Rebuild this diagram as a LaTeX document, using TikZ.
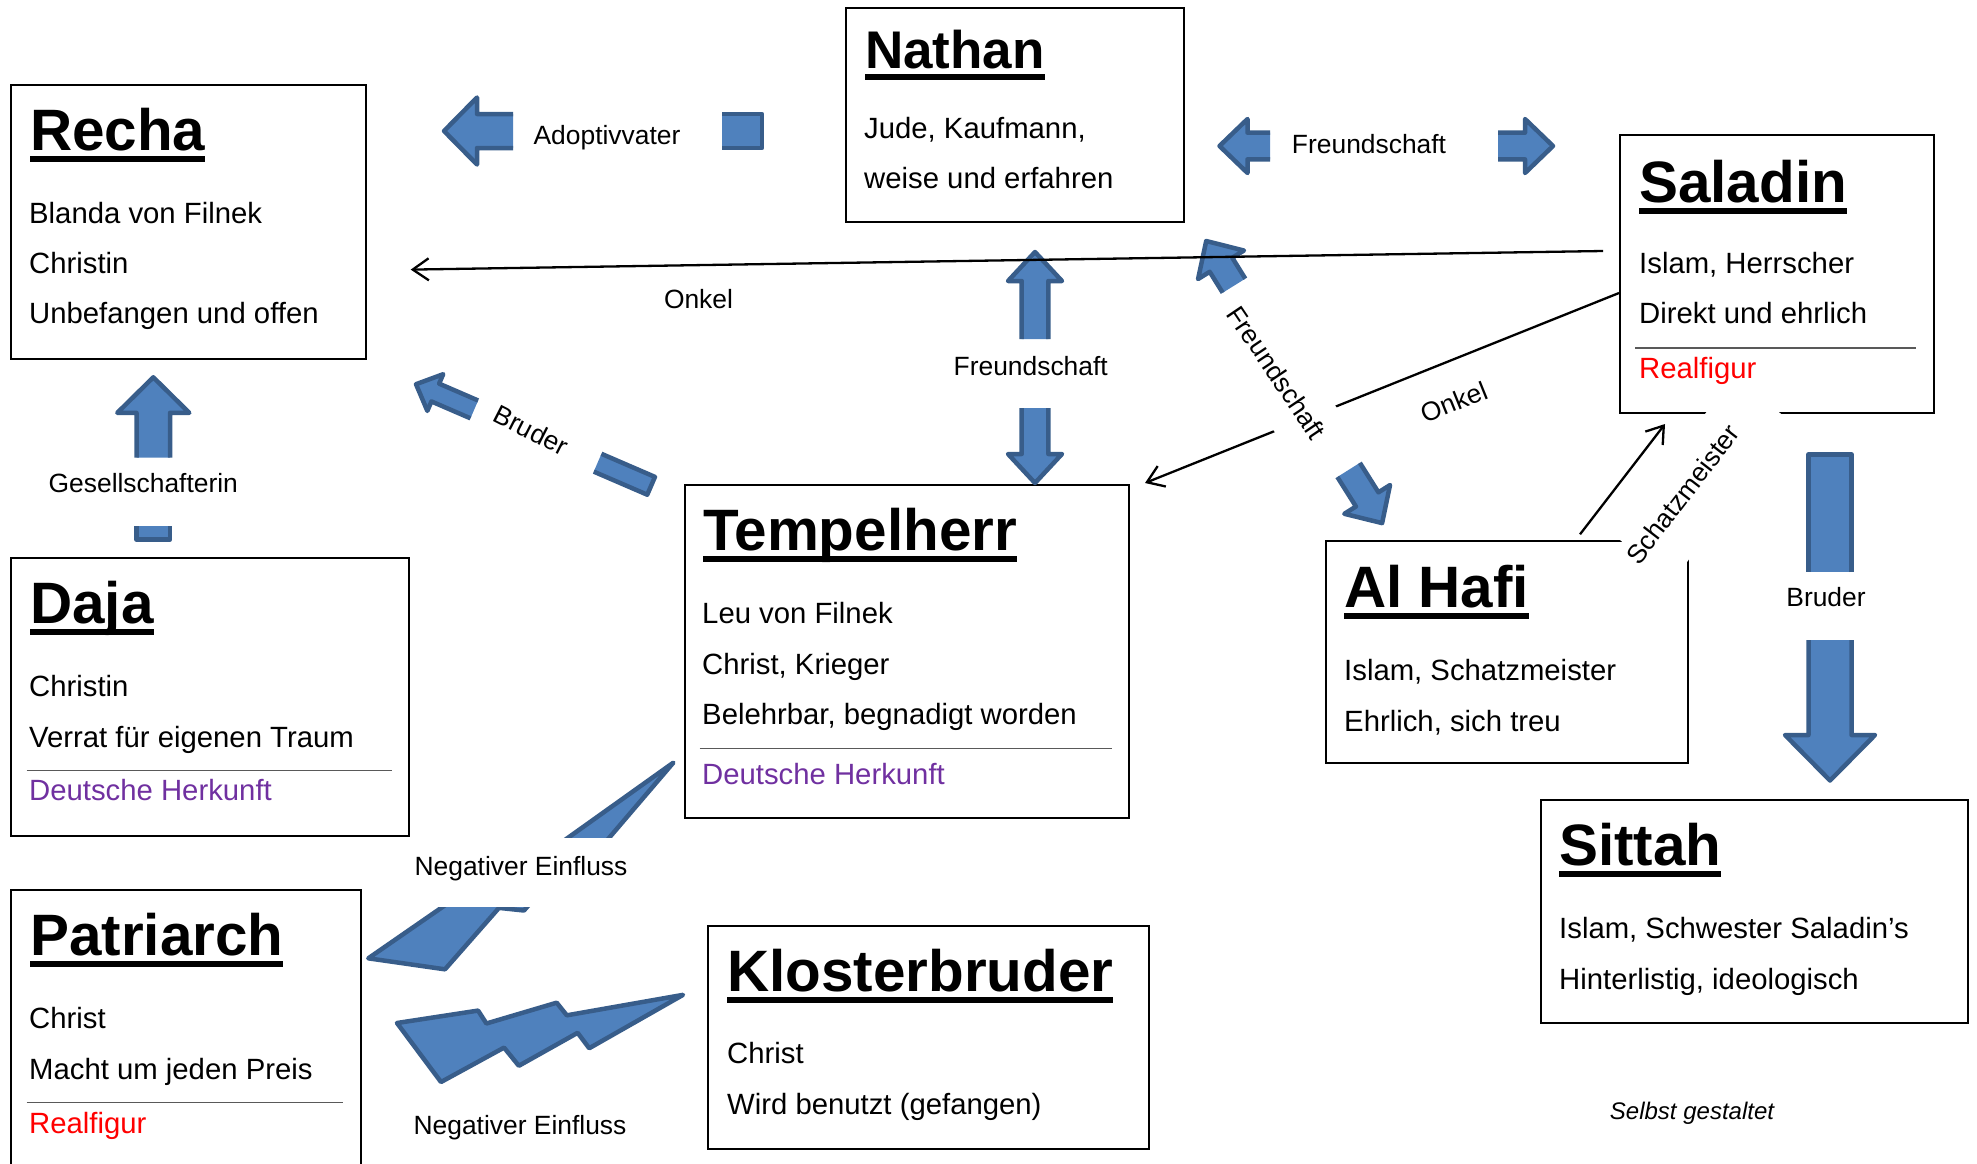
\documentclass[tikz,border=0pt]{standalone}
\usepackage{fontspec}
\setmainfont{Liberation Sans}
\usetikzlibrary{positioning, calc, arrows.meta}

\definecolor{pfeilblau}{HTML}{4F81BD}
\definecolor{pfeilrand}{HTML}{385D8A}
\definecolor{herkunft}{HTML}{7030A0}

\newsavebox{\titelbox}
\newcommand{\titel}[1]{\sbox{\titelbox}{#1}\rlap{\usebox{\titelbox}}\rule[-11.8pt]{\wd\titelbox}{6pt}}

\tikzset{
  kasten/.style={draw, line width=2pt, anchor=north west, inner sep=0pt},
  titel/.style={anchor=base west, inner sep=0pt, font=\fontsize{58.4}{60}\selectfont\bfseries},
  zeile/.style={anchor=base west, inner sep=0pt, font=\fontsize{29.3}{35}\selectfont},
  beschriftung/.style={inner sep=0pt, font=\fontsize{26.4}{30}\selectfont},
  trenner/.style={draw=black!65, line width=1.5pt},
  linie/.style={line width=2.3pt, -{Straight Barb[length=16pt,width=22pt]}},
  pfeil/.style={fill=pfeilblau, draw=pfeilrand, line width=4.5pt, line join=round},
  schaft/.style={to path={($(\tikztotarget)!#1pt!-90:(\tikztostart)$) -- ($(\tikztostart)!#1pt!90:(\tikztotarget)$) -- ($(\tikztostart)!#1pt!-90:(\tikztotarget)$) -- ($(\tikztotarget)!#1pt!90:(\tikztostart)$)}},
  spitze/.style n args={3}{to path={($(\tikztostart)!#1pt!90:(\tikztotarget)$) -- ($($(\tikztotarget)!#3pt!(\tikztostart)$)!#1pt!90:(\tikztotarget)$) -- ($($(\tikztotarget)!#3pt!(\tikztostart)$)!#2pt!90:(\tikztotarget)$) -- (\tikztotarget) -- ($($(\tikztotarget)!#3pt!(\tikztostart)$)!#2pt!-90:(\tikztotarget)$) -- ($($(\tikztotarget)!#3pt!(\tikztostart)$)!#1pt!-90:(\tikztotarget)$) -- ($(\tikztostart)!#1pt!-90:(\tikztotarget)$)}},
  blitz/.pic={\draw[pfeil] (8.458,0) -- (12.92,6.082) -- (11.03,6.84) -- (16.558,12.016) -- (14.768,12.911) -- (21.6,21.6) -- (9.987,14.934) -- (12.197,13.904) -- (4.993,9.72) -- (7.564,8.416) -- (0,3.923) -- cycle;}
}

\begin{document}
\begin{tikzpicture}[x=1pt, y=-1pt]
  \useasboundingbox (0,0) rectangle (1977,1163);

  \node[kasten, minimum width=355pt, minimum height=274pt] (recha) at (10,84) {};
  \node[titel] (recha-titel) at (30,150) {\titel{Recha}};
  \node[zeile] (recha-1) at (29,223) {Blanda von Filnek};
  \node[zeile] (recha-2) at (29,273) {Christin};
  \node[zeile] (recha-3) at (29,323) {Unbefangen und offen};

  \node[kasten, minimum width=338pt, minimum height=214pt] (nathan) at (845,7) {};
  \node[titel, font=\fontsize{53}{56}\selectfont\bfseries] (nathan-titel) at (865,68) {\titel{Nathan}};
  \node[zeile] (nathan-1) at (864,138) {Jude, Kaufmann,};
  \node[zeile] (nathan-2) at (864,188) {weise und erfahren};

  \node[kasten, minimum width=314pt, minimum height=278pt] (saladin) at (1619,134) {};
  \node[titel] (saladin-titel) at (1639,202) {\titel{Saladin}};
  \node[zeile] (saladin-1) at (1639,273) {Islam, Herrscher};
  \node[zeile] (saladin-2) at (1639,323) {Direkt und ehrlich};
  \draw[trenner] (1635,348) -- (1916,348);
  \node[zeile, text=red] (saladin-3) at (1639,378) {Realfigur};

  \node[kasten, minimum width=444pt, minimum height=333pt] (tempelherr) at (684,484) {};
  \node[titel] (tempelherr-titel) at (703,550) {\titel{Tempelherr}};
  \node[zeile] (tempelherr-1) at (702,623) {Leu von Filnek};
  \node[zeile] (tempelherr-2) at (702,674) {Christ, Krieger};
  \node[zeile] (tempelherr-3) at (702,724) {Belehrbar, begnadigt worden};
  \draw[trenner] (699.5,748.6) -- (1111.7,748.6);
  \node[zeile, text=herkunft] (tempelherr-4) at (702,784) {Deutsche Herkunft};

  \node[kasten, minimum width=362pt, minimum height=222pt] (alhafi) at (1325,540) {};
  \node[titel] (alhafi-titel) at (1344,607) {\titel{Al Hafi}};
  \node[zeile] (alhafi-1) at (1344,680) {Islam, Schatzmeister};
  \node[zeile] (alhafi-2) at (1344,731) {Ehrlich, sich treu};

  \node[kasten, minimum width=398pt, minimum height=278pt] (daja) at (10,557) {};
  \node[titel] (daja-titel) at (30,623) {\titel{Daja}};
  \node[zeile] (daja-1) at (29,696) {Christin};
  \node[zeile] (daja-2) at (29,747) {Verrat für eigenen Traum};
  \draw[trenner] (26.5,770.4) -- (391.8,770.4);
  \node[zeile, text=herkunft] (daja-3) at (29,800) {Deutsche Herkunft};

  \node[kasten, minimum width=350pt, minimum height=300pt] (patriarch) at (10,889) {};
  \node[titel] (patriarch-titel) at (30,955) {\titel{Patriarch}};
  \node[zeile] (patriarch-1) at (29,1028) {Christ};
  \node[zeile] (patriarch-2) at (29,1079.5) {Macht um jeden Preis};
  \draw[trenner] (26.5,1102.6) -- (342.9,1102.6);
  \node[zeile, text=red] (patriarch-3) at (29,1133) {Realfigur};

  \node[kasten, minimum width=441pt, minimum height=223pt] (klosterbruder) at (707,925) {};
  \node[titel] (klosterbruder-titel) at (727,991) {\titel{Klosterbruder}};
  \node[zeile] (klosterbruder-1) at (727,1063.6) {Christ};
  \node[zeile] (klosterbruder-2) at (727,1114.5) {Wird benutzt (gefangen)};

  \node[kasten, minimum width=427pt, minimum height=223pt] (sittah) at (1540,799) {};
  \node[titel] (sittah-titel) at (1559,865) {\titel{Sittah}};
  \node[zeile] (sittah-1) at (1559,938) {Islam, Schwester Saladin’s};
  \node[zeile] (sittah-2) at (1559,989) {Hinterlistig, ideologisch};

  \coordinate (onkel-t-a) at (1619,293);
  \coordinate (onkel-t-b) at (1145,483);
  \coordinate (schatz-a) at (1580,534.3);
  \coordinate (schatz-b) at (1665,424);
  \draw[linie] (onkel-t-a) -- (onkel-t-b);
  \draw[linie] (schatz-a) -- (schatz-b);

  \begin{scope}[shift={(384.9,994.6)}, x={(-1.963pt,4.292pt)}, y={(15.32pt,6.449pt)}]
    \pic {blitz};
  \end{scope}
  \begin{scope}[shift={(390.8,1073)}, x={(0.733pt,5.912pt)}, y={(12.796pt,-2.294pt)}]
    \pic {blitz};
  \end{scope}

  \node[beschriftung, fill=white, rotate=-56, anchor=base, text height=39.5pt, text depth=25.5pt, inner xsep=6pt] (fna-lbl) at (1269,378) {Freundschaft};
  \node[beschriftung, fill=white, rotate=52.4, anchor=base, text height=40.5pt, text depth=35.5pt] (schatz-lbl) at (1705,480.4) {\hspace*{-9pt}Schatzmeister\hspace*{40pt}};
  \node[beschriftung, fill=white, anchor=base, text height=37pt, text depth=32pt, inner xsep=8pt] (neg-oben) at (521,875) {Negativer Einfluss};

  \coordinate (adopt-a) at (762,131);
  \coordinate (adopt-g1) at (722,131);
  \coordinate (adopt-g2) at (513,131);
  \coordinate (adopt-b) at (444,131);
  \draw[pfeil] (adopt-a) to[schaft=17] (adopt-g1);
  \draw[pfeil] (adopt-g2) to[spitze={17}{33.5}{33}] (adopt-b);

  \coordinate (fns-g1) at (1270,146);
  \coordinate (fns-b1) at (1219.5,146);
  \coordinate (fns-g2) at (1498,146);
  \coordinate (fns-b2) at (1553,146);
  \draw[pfeil] (fns-g1) to[spitze={13.3}{27}{28}] (fns-b1);
  \draw[pfeil] (fns-g2) to[spitze={13.3}{27}{28}] (fns-b2);

  \coordinate (fnt-g1) at (1035,339);
  \coordinate (fnt-b1) at (1035,252);
  \coordinate (fnt-g2) at (1035,408);
  \coordinate (fnt-b2) at (1035,483);
  \draw[pfeil] (fnt-g1) to[spitze={13.3}{27}{29}] (fnt-b1);
  \draw[pfeil] (fnt-g2) to[spitze={13.3}{27}{29}] (fnt-b2);

  \coordinate (fna-g1) at (1234,285.7);
  \coordinate (fna-b1) at (1206.2,241);
  \coordinate (fna-g2) at (1348.6,469.9);
  \coordinate (fna-b2) at (1382.1,523.1);
  \draw[pfeil] (fna-g1) to[spitze={13.3}{27}{28}] (fna-b1);
  \draw[pfeil] (fna-g2) to[spitze={13.3}{27}{28}] (fna-b2);

  \coordinate (bss-a) at (1830,454.5);
  \coordinate (bss-g1) at (1830,572);
  \coordinate (bss-g2) at (1830,640);
  \coordinate (bss-b) at (1830,780.5);
  \draw[pfeil] (bss-a) to[schaft=21.5] (bss-g1);
  \draw[pfeil] (bss-g2) to[spitze={21.5}{45}{45.5}] (bss-b);

  \coordinate (ges-a) at (153.3,539.5);
  \coordinate (ges-g1) at (153.3,526);
  \coordinate (ges-g2) at (153.3,457.7);
  \coordinate (ges-b) at (153.3,377.3);
  \draw[pfeil] (ges-a) to[schaft=16.8] (ges-g1);
  \draw[pfeil] (ges-g2) to[spitze={16.8}{36}{35.5}] (ges-b);

  \coordinate (btr-a) at (651.1,485.8);
  \coordinate (btr-g1) at (597.6,462.7);
  \coordinate (btr-g2) at (474.3,409.4);
  \coordinate (btr-b) at (416,384.2);
  \draw[pfeil] (btr-a) to[schaft=9.7] (btr-g1);
  \draw[pfeil] (btr-g2) to[spitze={9.7}{20}{21}] (btr-b);

  \coordinate (onkel-r-a) at (1603,251);
  \coordinate (onkel-r-b) at (410.7,269.6);
  \draw[linie] (onkel-r-a) -- (onkel-r-b);

  \node[beschriftung, anchor=base] (adopt-lbl) at (607,144) {Adoptivvater};
  \node[beschriftung, anchor=base] (fns-lbl) at (1369,153.3) {Freundschaft};
  \node[beschriftung, anchor=base] (fnt-lbl) at (1030.7,375) {Freundschaft};
  \node[beschriftung, anchor=base] (ges-lbl) at (143.3,492.7) {Gesellschafterin};
  \node[beschriftung, anchor=base] (bss-lbl) at (1826,606.7) {Bruder};
  \node[beschriftung, anchor=base] (onkel-r-lbl) at (698.5,308.3) {Onkel};
  \node[beschriftung, rotate=22] (onkel-t-lbl) at (1454,402) {Onkel};
  \node[beschriftung, rotate=-27] (btr-lbl) at (531,430) {Bruder};
  \node[beschriftung, anchor=base] (neg-unten) at (520,1134) {Negativer Einfluss};
  \node[anchor=base, inner sep=0pt, font=\fontsize{24}{28}\selectfont\itshape] (quelle) at (1692,1119) {Selbst gestaltet};
\end{tikzpicture}
\end{document}
